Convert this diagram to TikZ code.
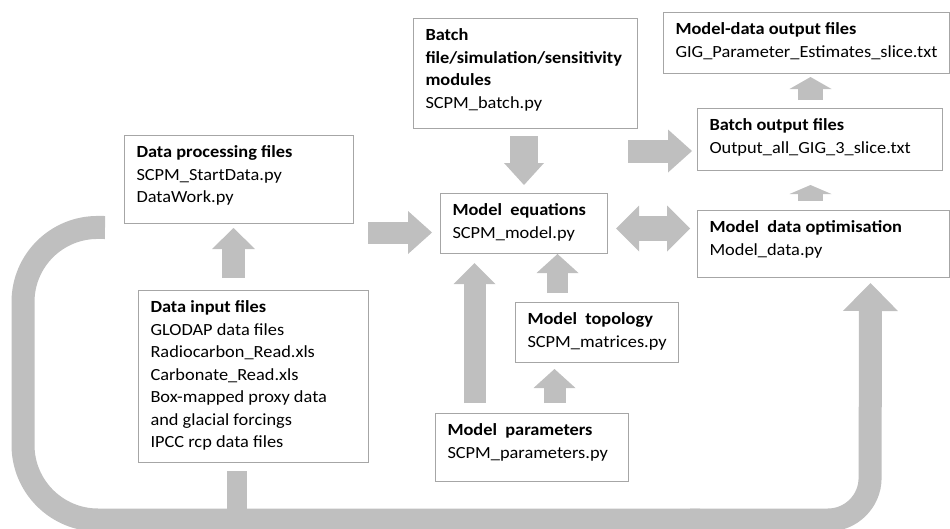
\documentclass[tikz,border=0pt]{standalone}
\usepackage{fontspec}
\setmainfont{Carlito}[FakeStretch=1.08]
\usetikzlibrary{arrows.meta,calc}
\definecolor{arrowgray}{HTML}{BFBFBF}
\definecolor{boxgray}{HTML}{A6A6A6}
\newcommand\boxc[3]{\hspace*{12pt}\begin{minipage}[t][#2pt][t]{\dimexpr#1pt-12pt\relax}\raggedright\rule{0pt}{22pt}#3\end{minipage}}
\begin{document}
\begin{tikzpicture}[x=1pt,y=-1pt,
  box/.style={draw=boxgray, line width=1pt, anchor=north west, inner sep=0pt,
    font=\fontsize{17pt}{22.5pt}\selectfont},
  fat/.style n args={3}{draw=arrowgray, line width=#1pt,
    -{Triangle[width=#2pt,length=#3pt,line width=0pt]}},
  fatboth/.style n args={3}{draw=arrowgray, line width=#1pt,
    {Triangle[width=#2pt,length=#3pt,line width=0pt]}-{Triangle[width=#2pt,length=#3pt,line width=0pt]}},
  band/.style={draw=arrowgray, line width=23pt}]
\useasboundingbox (0,0) rectangle (950,528);

% boxes
\node[box] (DP) at (124,135) {\boxc{229}{88}{\textbf{Data processing files}\\SCPM\_StartData.py\\DataWork.py}};
\node[box] (DI) at (138,290) {\boxc{230}{172}{\textbf{Data input files}\\GLODAP data files\\Radiocarbon\_Read.xls\\Carbonate\_Read.xls\\Box-mapped proxy data\\and glacial forcings\\IPCC rcp data files}};
\node[box] (batch) at (413,18) {\boxc{224}{110}{\textbf{Batch}\\\textbf{file/simulation/sensitivity}\\\textbf{modules}\\SCPM\_batch.py}};
\node[box] (ME) at (440,193) {\boxc{167}{60}{\textbf{Model~ equations}\\SCPM\_model.py}};
\node[box] (out) at (663,12) {\boxc{286}{61}{\textbf{Model-data output files}\\GIG\_Parameter\_Estimates\_slice.txt}};
\node[box] (BO) at (697,108) {\boxc{245}{62}{\textbf{Batch output files}\\Output\_all\_GIG\_3\_slice.txt}};
\node[box] (opt) at (697,210) {\boxc{252}{67}{\textbf{Model~ data optimisation}\\Model\_data.py}};
\node[box] (topo) at (515,302) {\boxc{163}{60}{\textbf{Model~ topology}\\SCPM\_matrices.py}};
\node[box] (par) at (435,413) {\boxc{193}{68}{\textbf{Model~ parameters}\\SCPM\_parameters.py}};

% block arrows
\draw[fat={23}{43}{21}] ($(DI.north)+(-20,-12)$) -- ($(DI.north |- DP.south)+(-20,4)$);
\draw[fat={22}{43}{24}] ($(DP.east |- ME.west)+(14,9)$) -- ($(ME.west)+(-8,9)$);
\draw[fat={28}{40}{22}] ($(batch.south -| ME.north)+(0,7)$) -- ($(ME.north)+(0,-8)$);
\draw[fatboth={25}{46}{23}] ($(ME.east)+(8,5)$) -- ($(ME.east -| opt.west)+(-7,5)$);
\draw[fat={23}{43}{24}] ($(ME.north east)+(20,-42)$) -- ($(ME.north east -| BO.west)+(-5,-42)$);
\draw[fat={25}{42}{12}] ($(BO.north -| out.south)+(4,-8)$) -- ($(out.south)+(4,3)$);
\draw[fat={25}{42}{9}] ($(opt.north -| out.south)+(4,-9)$) -- ($(BO.south -| out.south)+(4,14)$);
\draw[fat={22}{42}{21}] ($(par.north)+(-57.5,-10)$) -- ($(ME.south)+(-49.5,9)$);
\draw[fat={21}{42}{19}] ($(topo.north)+(-39.5,-9)$) -- ($(ME.south)+(33.5,0)$);
\draw[fat={22}{42}{19}] ($(par.north)+(22.5,-10)$) -- ($(topo.south)+(-42.5,6)$);

% feedback loop
\coordinate (j) at ($(DI.south)+(-17,58)$);
\draw[band, line width=20pt] ($(DI.south)+(-17,8)$) -- ($(j)+(0,5)$);
\draw[band, rounded corners=75pt] ($(DP.west)+(-19,48)$) -- (23,227) -- (23,520) -- (700,520);
\draw[band, rounded corners=42pt, -{Triangle[width=55pt,length=28pt,line width=0pt]}]
  (690,520) -- (870,520) -- ($(opt.south)+(47,5)$);
\end{tikzpicture}
\end{document}
